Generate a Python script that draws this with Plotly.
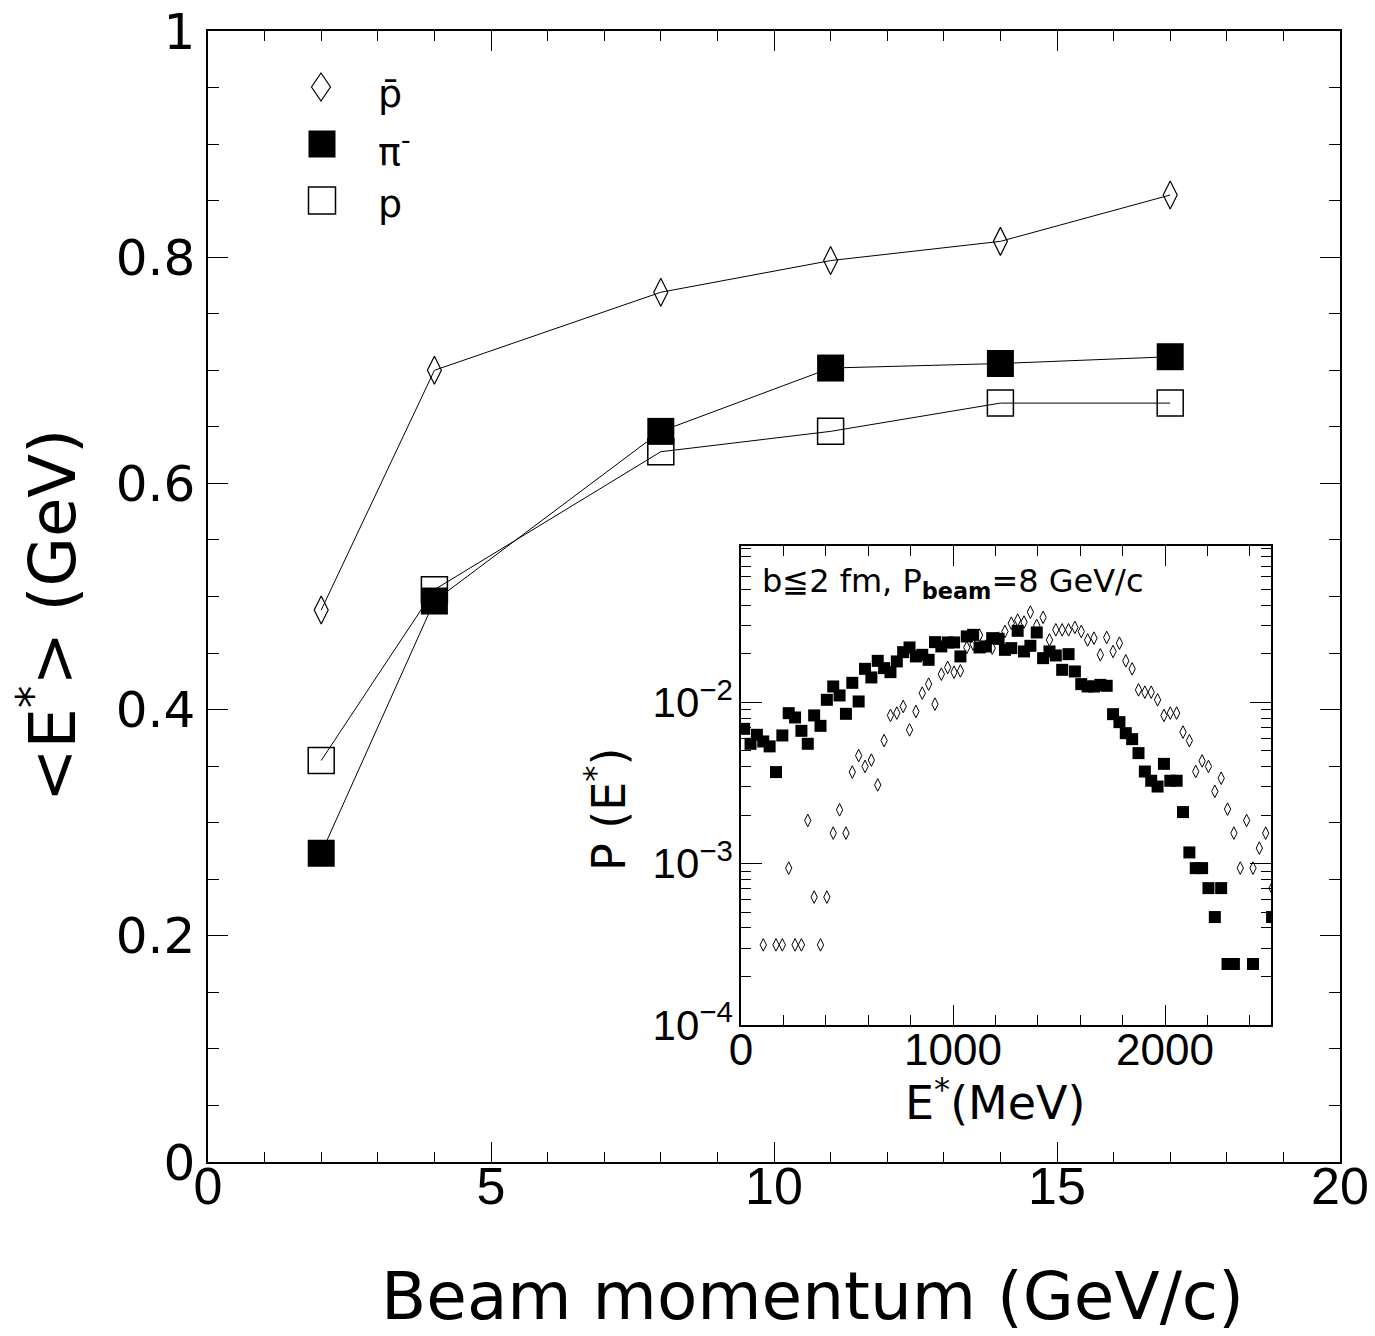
import plotly.graph_objects as go

# ---------------- main plot data ----------------
beam_momentum = [2, 4, 8, 11, 14, 17]
E_pbar = [0.488, 0.700, 0.769, 0.797, 0.814, 0.855]
E_pim = [0.273, 0.496, 0.646, 0.702, 0.706, 0.712]
E_p = [0.355, 0.506, 0.628, 0.646, 0.671, 0.671]

x_ticks_main = [0, 5, 10, 15, 20]
y_ticks_main = [0, 0.2, 0.4, 0.6, 0.8, 1]

# ---------------- inset data (E* in MeV, P(E*)) ----------------
inset_pim_E = [15, 45, 75, 105, 135, 165, 195, 225, 255, 285, 315, 345, 375, 405, 435,
               465, 495, 525, 555, 585, 615, 645, 675, 705, 735, 765, 795, 825, 855, 885,
               915, 945, 975, 1005, 1035, 1065, 1095, 1125, 1155, 1185, 1215, 1245, 1275,
               1305, 1335, 1365, 1395, 1425, 1455, 1485, 1515, 1545, 1575, 1605, 1635,
               1665, 1695, 1725, 1755, 1785, 1815, 1845, 1875, 1905, 1935, 1965, 1995,
               2025, 2055, 2085, 2115, 2145, 2175, 2205, 2235, 2265, 2295, 2325, 2415, 2505]
inset_pim_P = [6.86e-3, 5.54e-3, 6.30e-3, 5.73e-3, 5.34e-3, 3.70e-3, 6.24e-3, 8.58e-3,
               8.07e-3, 6.67e-3, 5.54e-3, 8.31e-3, 7.16e-3, 1.038e-2, 1.256e-2, 1.105e-2,
               8.50e-3, 1.323e-2, 1.014e-2, 1.616e-2, 1.429e-2, 1.811e-2, 1.632e-2,
               1.541e-2, 1.796e-2, 2.050e-2, 2.193e-2, 1.929e-2, 1.973e-2, 1.837e-2,
               2.365e-2, 2.225e-2, 2.355e-2, 2.355e-2, 1.929e-2, 2.566e-2, 2.625e-2,
               2.193e-2, 2.225e-2, 2.504e-2, 2.480e-2, 2.119e-2, 2.171e-2, 2.78e-2,
               2.071e-2, 2.244e-2, 2.716e-2, 1.882e-2, 2.071e-2, 1.956e-2, 1.593e-2,
               1.993e-2, 1.556e-2, 1.299e-2, 1.256e-2, 1.256e-2, 1.285e-2, 1.268e-2,
               8.46e-3, 7.55e-3, 6.45e-3, 5.92e-3, 4.85e-3, 3.73e-3, 3.27e-3, 3.01e-3,
               4.16e-3, 3.27e-3, 3.27e-3, 2.09e-3, 1.175e-3, 9.39e-4, 9.39e-4, 7.06e-4,
               4.67e-4, 7.06e-4, 2.39e-4, 2.39e-4, 2.39e-4, 4.67e-4]

inset_pbar_E = [105, 165, 195, 225, 255, 285, 315, 345, 375, 405, 435, 465, 495, 525, 555,
                585, 615, 645, 675, 705, 735, 765, 795, 825, 855, 885, 915, 945, 975, 1005,
                1035, 1065, 1095, 1125, 1155, 1185, 1215, 1245, 1275, 1305, 1335, 1365,
                1395, 1425, 1455, 1485, 1515, 1545, 1575, 1605, 1635, 1665, 1695, 1725,
                1755, 1785, 1815, 1845, 1875, 1905, 1935, 1965, 1995, 2025, 2055, 2085,
                2115, 2145, 2175, 2205, 2235, 2265, 2295, 2325, 2355, 2385, 2415, 2445,
                2475, 2505]
inset_pbar_P = [3.14e-4, 3.14e-4, 3.14e-4, 9.39e-4, 3.14e-4, 3.14e-4, 1.855e-3, 6.21e-4,
                3.14e-4, 6.21e-4, 1.548e-3, 2.159e-3, 1.548e-3, 3.70e-3, 4.68e-3, 4.01e-3,
                4.39e-3, 3.08e-3, 5.80e-3, 8.31e-3, 8.59e-3, 9.44e-3, 6.76e-3, 8.79e-3,
                1.142e-2, 1.299e-2, 9.76e-3, 1.497e-2, 1.648e-2, 1.541e-2, 1.570e-2,
                2.193e-2, 2.298e-2, 2.614e-2, 2.234e-2, 2.171e-2, 2.504e-2, 2.755e-2,
                3.10e-2, 3.24e-2, 3.15e-2, 3.63e-2, 3.00e-2, 3.37e-2, 2.44e-2, 2.82e-2,
                2.82e-2, 2.82e-2, 2.92e-2, 2.755e-2, 2.44e-2, 2.504e-2, 1.973e-2, 2.529e-2,
                2.07e-2, 2.331e-2, 1.811e-2, 1.615e-2, 1.197e-2, 1.158e-2, 1.158e-2,
                1.038e-2, 8.31e-3, 8.59e-3, 8.59e-3, 6.55e-3, 5.80e-3, 3.73e-3, 4.34e-3,
                4.01e-3, 2.81e-3, 3.39e-3, 2.18e-3, 1.548e-3, 9.39e-4, 1.855e-3, 9.39e-4,
                1.25e-3, 1.548e-3, 7.06e-4]

inset_x_ticks = [0, 1000, 2000]
inset_y_ticks = [1e-4, 1e-3, 1e-2]
inset_y_ticktext = ["10<sup>−4</sup>", "10<sup>−3</sup>", "10<sup>−2</sup>"]

legend_labels = ["p\u0304", "π<sup>-</sup>", "p"]

# ---------------- geometry (page pixels; the page body has an 8 px margin) ----------------
OFF = 8
PLOT_L, PLOT_R, PLOT_T, PLOT_B = 208, 1340, 31, 1162
W, H = 1375 - OFF, 1336 - OFF
L, T = PLOT_L - OFF, PLOT_T - OFF
R, B = W - (PLOT_R - OFF), H - (PLOT_B - OFF)
PW, PH = PLOT_R - PLOT_L, PLOT_B - PLOT_T


def px(x):
    return (x - PLOT_L) / PW


def py(y):
    return (PLOT_B - y) / PH


fig = go.Figure()

line_style = dict(color="black", width=1)

fig.add_trace(go.Scatter(x=beam_momentum, y=E_p, mode="lines+markers", line=line_style,
                         marker=dict(symbol="square-open", size=26, color="black",
                                     line=dict(width=1.5, color="black")),
                         showlegend=False))
fig.add_trace(go.Scatter(x=beam_momentum, y=E_pim, mode="lines+markers", line=line_style,
                         marker=dict(symbol="square", size=27, color="black",
                                     line=dict(width=0)),
                         showlegend=False))
fig.add_trace(go.Scatter(x=beam_momentum, y=E_pbar, mode="lines+markers", line=line_style,
                         marker=dict(symbol="diamond-tall-open", size=20, color="black",
                                     line=dict(width=1.2, color="black")),
                         showlegend=False))

# inset traces
fig.add_trace(go.Scatter(x=inset_pbar_E, y=inset_pbar_P, mode="markers",
                         xaxis="x2", yaxis="y2",
                         marker=dict(symbol="diamond-tall-open", size=9, color="black",
                                     line=dict(width=1, color="black")),
                         showlegend=False))
fig.add_trace(go.Scatter(x=inset_pim_E, y=inset_pim_P, mode="markers",
                         xaxis="x2", yaxis="y2",
                         marker=dict(symbol="square", size=12, color="black",
                                     line=dict(width=0)),
                         showlegend=False))

axis_common = dict(showline=True, linecolor="black", linewidth=1.5, mirror="allticks",
                   ticks="inside", tickcolor="black", tickwidth=1.2, showgrid=False,
                   zeroline=False, automargin=False, ticklabeloverflow="allow")

minor_y2 = [m * 10 ** e for e in (-4, -3, -2) for m in range(2, 10)]

fig.update_layout(
    width=W, height=H,
    margin=dict(l=L, r=R, t=T, b=B, autoexpand=False),
    paper_bgcolor="white", plot_bgcolor="white",
    font=dict(family="DejaVu Sans", color="black"),
    xaxis=dict(**axis_common, range=[0, 20], tickvals=x_ticks_main, ticklen=20,
               minor=dict(dtick=1, ticklen=10, ticks="inside", tickcolor="black"),
               tickfont=dict(family="Liberation Sans", size=52), ticklabelstandoff=-22),
    yaxis=dict(**axis_common, range=[0, 1], tickvals=y_ticks_main, ticklen=20,
               minor=dict(dtick=0.05, ticklen=11, ticks="inside", tickcolor="black"),
               tickfont=dict(family="DejaVu Sans", size=50), ticklabelstandoff=1),
    xaxis2=dict(**axis_common, anchor="y2", domain=[px(741), px(1271)], range=[0, 2500],
                tickvals=inset_x_ticks, ticklen=20,
                minor=dict(dtick=200, ticklen=10, ticks="inside", tickcolor="black"),
                tickfont=dict(family="Liberation Sans", size=44), ticklabelstandoff=-15),
    yaxis2=dict(**axis_common, anchor="x2", type="log", domain=[py(1025), py(546)],
                range=[-4.0, -1.03], tickvals=inset_y_ticks, ticktext=inset_y_ticktext,
                ticklen=21,
                minor=dict(tickvals=minor_y2, ticklen=10, ticks="inside", tickcolor="black"),
                tickfont=dict(family="Liberation Sans", size=42), ticklabelstandoff=-2),
)

annotations = [
    dict(text="Beam momentum (GeV/c)", x=px(812), y=py(1296), xref="paper", yref="paper",
         showarrow=False, xanchor="center", yanchor="middle",
         font=dict(family="DejaVu Sans", size=66)),
    dict(text="&lt;E<sup>*</sup>&gt; (GeV)", x=px(48), y=py(616), xref="paper", yref="paper",
         showarrow=False, textangle=-90, xanchor="center", yanchor="middle",
         font=dict(family="DejaVu Sans", size=64)),
    dict(text="P (E<sup>*</sup>)", x=px(606), y=py(810), xref="paper", yref="paper",
         showarrow=False, textangle=-90, xanchor="center", yanchor="middle",
         font=dict(family="DejaVu Sans", size=46)),
    dict(text="E<sup>*</sup>(MeV)", x=px(995), y=py(1100), xref="paper", yref="paper",
         showarrow=False, xanchor="center", yanchor="middle",
         font=dict(family="DejaVu Sans", size=46)),
    dict(text="b≦2 fm, P<sub><b>beam</b></sub>=8 GeV/c", x=px(760), y=py(583),
         xref="paper", yref="paper", showarrow=False, xanchor="left", yanchor="middle",
         font=dict(family="DejaVu Sans", size=32)),
]

legend_y = [94, 149, 204]
for lab, ly in zip(legend_labels, legend_y):
    annotations.append(dict(text=lab, x=px(376), y=py(ly), xref="paper", yref="paper",
                            showarrow=False, xanchor="left", yanchor="middle",
                            font=dict(family="DejaVu Sans", size=38)))
fig.update_layout(annotations=annotations)

# legend keys (layout shapes in paper coordinates)
cx, cy = 321, 87
fig.add_shape(type="path", xref="paper", yref="paper",
              path=(f"M {px(cx)},{py(cy - 14)} L {px(cx + 9.5)},{py(cy)} "
                    f"L {px(cx)},{py(cy + 14)} L {px(cx - 9.5)},{py(cy)} Z"),
              line=dict(color="black", width=1.2), fillcolor="rgba(0,0,0,0)")
fig.add_shape(type="rect", xref="paper", yref="paper",
              x0=px(308.5), x1=px(335.5), y0=py(157.5), y1=py(130.5),
              line=dict(color="black", width=0), fillcolor="black")
fig.add_shape(type="rect", xref="paper", yref="paper",
              x0=px(308.5), x1=px(335.5), y0=py(214), y1=py(187),
              line=dict(color="black", width=1.5), fillcolor="rgba(0,0,0,0)")

fig.write_html("out.html")
